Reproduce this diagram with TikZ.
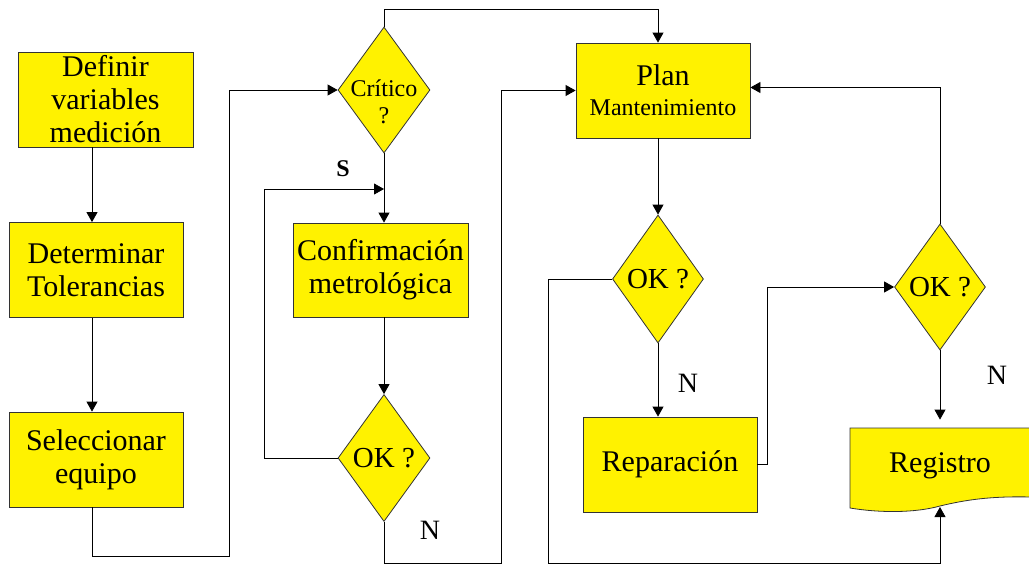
\documentclass[tikz,border=0pt]{standalone}
\usepackage{fontspec}
\setmainfont{Liberation Serif}
\usetikzlibrary{arrows.meta}
\usetikzlibrary{shapes.geometric}

\begin{document}
\begin{tikzpicture}[x=1pt,y=-1pt,line width=0.8pt,>/.tip={Triangle[length=10pt,width=11pt]},
	box/.style={draw=black!80,fill=yellow,minimum width=174pt,minimum height=95pt,inner sep=0pt,align=center,font=\fontsize{30}{33}\selectfont},
	dec/.style={draw=black!80,fill=yellow,shape=diamond,minimum width=92pt,minimum height=127pt,inner sep=0pt},
	dectext/.style={inner sep=0pt,align=center,font=\fontsize{29}{33}\selectfont},
	doc/.style={minimum width=180pt,minimum height=76pt,inner sep=0pt,font=\fontsize{30}{33}\selectfont},
	ans/.style={inner sep=0pt,font=\fontsize{28}{30}\selectfont}]
	\useasboundingbox (0,0) rectangle (1029,565);
	\draw (105.5,99.5) node(B1) [box,minimum width=175pt] {Definir\\variables\\medición};
	\draw (96,270) node(B2) [box] {Determinar\\Tolerancias};
	\draw (96,459.5) node(B3) [box] {Seleccionar\\equipo};
	\draw (384,90) node(D1) [dec,minimum height=126pt] {};
	\draw (384,102) node(D1t) [dectext,font=\fontsize{24}{27}\selectfont] {Crítico\\?};
	\draw (380.5,270) node(B4) [box,minimum width=175pt,minimum height=94pt] {Confirmación\\metrológica};
	\draw (384,458) node(D2) [dec] {};
	\draw (D2.center) node(D2t) [dectext] {OK ?};
	\draw (663,90.5) node(B5) [box] {Plan\\[-3pt]{\fontsize{24}{27}\selectfont Mantenimiento}};
	\draw (658,279) node(D3) [dec,minimum width=91pt,minimum height=128pt] {};
	\draw (D3.center) node(D3t) [dectext] {OK ?};
	\draw (670,464.5) node(B6) [box] {Reparación};
	\draw (940,287) node(D4) [dec,minimum width=91pt,minimum height=126pt] {};
	\draw (D4.center) node(D4t) [dectext] {OK ?};
	\filldraw[draw=black!80,fill=yellow] (850,428) -- (1031,428) -- (1031,497) .. controls (990,496) and (965,500) .. (940,506) .. controls (915,513) and (880,513) .. (850,508) -- cycle;
	\draw (940,466) node(R) [doc] {Registro};
	\coordinate (lx) at (92,0);
	\coordinate (S1) at (384,189);
	\coordinate (regbot) at (940,507);
	\node (lblS) [inner sep=0pt,font=\bfseries\fontsize{24}{24}\selectfont] at (343,169) {S};
	\node (lblN1) [ans] at (430,530) {N};
	\node (lblN2) [ans] at (688,383) {N};
	\node (lblN3) [ans] at (997,375) {N};
	\draw[->] (B1.south -| lx) -- (B2.north -| lx);
	\draw[->] (B2.south -| lx) -- (B3.north -| lx);
	\draw[->] (B3.south -| lx) |- (229,556) |- (D1.west);
	\draw[->] (D1.north) -- ++(0,-17) -| (B5.north -| D3.north);
	\draw[->] (D1.south) -- (B4.north -| D1.south);
	\draw[->] (B4.south -| D2.north) -- (D2.north);
	\draw[->] (D2.west) -- ++(-73,0) |- (S1);
	\draw[->] (D2.south) |- (501,563) |- (B5.west);
	\draw[->] (B5.south -| D3.north) -- (D3.north);
	\draw[->] (D3.south) -- (B6.north -| D3.south);
	\draw[->] (D3.west) -| (548,563) -| (regbot);
	\draw[->] (B6.east) -- ++(10,0) |- (D4.west);
	\draw[->,shorten >=8pt] (D4.south) -- (R.north);
	\draw[->] (D4.north) |- ([yshift=3pt]B5.east);
\end{tikzpicture}
\end{document}
